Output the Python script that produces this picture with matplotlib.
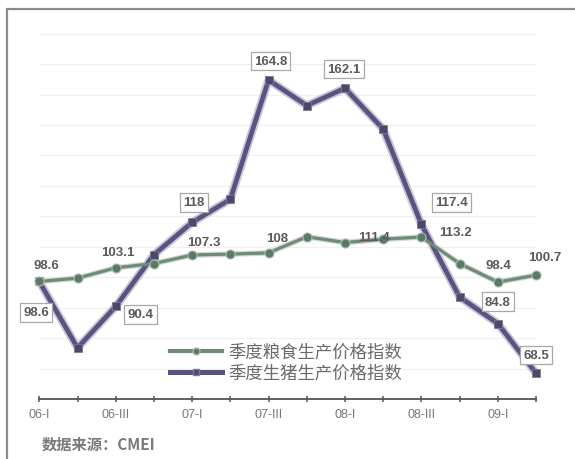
import numpy as np
import matplotlib
matplotlib.use("Agg")
import matplotlib.pyplot as plt
from matplotlib.lines import Line2D
from matplotlib.patches import Rectangle

plt.rcParams['font.family'] = ['Liberation Sans', 'Noto Sans CJK SC', 'DejaVu Sans']

# quarters 06-I .. 09-II
quarters = ['06-I', '06-II', '06-III', '06-IV', '07-I', '07-II', '07-III', '07-IV',
            '08-I', '08-II', '08-III', '08-IV', '09-I', '09-II']
grain = [98.6, 99.7, 103.1, 104.5, 107.3, 107.6, 108, 113.3,
         111.4, 112.5, 113.2, 104.5, 98.4, 100.7]
pig = [98.6, 76.8, 90.4, 107.4, 118, 125.6, 164.8, 156.4,
       162.1, 148.7, 117.4, 93.5, 84.8, 68.5]
labelled = [0, 2, 4, 6, 8, 10, 12, 13]
grain_name = '季度粮食生产价格指数'
pig_name = '季度生猪生产价格指数'
source = '数据来源：CMEI'

# label offsets in pixels (dx, dy)
grain_off = [(7, 16), (2, 16), (12, 13), (9, 15), (29, 6), (34, 5), (1, 17), (9, 18)]
pig_off = [(-3, -31), (25, -8), (2, 20), (2, 19), (-1, 19), (30, 22), (0, 22), (0, 18)]

pig_color = '#5a5380'
pig_mark = '#4a4a68'
grain_color = '#6f8b78'
grain_mark = '#5b7a66'
label_color = '#5a5a5a'

fig = plt.figure(figsize=(5.75, 4.6), dpi=100)
W, H = 575, 460

# outer frame
fig.patches.append(Rectangle((7 / W, -0.05), 1.2, 1 - 10 / H + 0.05, transform=fig.transFigure,
                             fill=False, edgecolor='#8a8a8a', linewidth=1.6))

ax = fig.add_axes([39.3 / W, 60 / H, (536 - 39.3) / W, (400 - 34.7) / H])
x = np.arange(len(quarters))

ax.set_xlim(0, 13)
ax.set_ylim(60, 180)
for gy in range(70, 181, 10):
    ax.axhline(gy, color='#f0f0f0', linewidth=0.9, zorder=0)

# soft halo under the lines
ax.plot(x, pig, color='#c9c5da', linewidth=6, solid_capstyle='round', clip_on=False, zorder=2)
ax.plot(x, grain, color='#cfd9d2', linewidth=4, solid_capstyle='round', clip_on=False, zorder=2)

ax.plot(x, pig, color=pig_color, linewidth=3.4, marker='s', markersize=5.5,
        markerfacecolor=pig_mark, markeredgecolor='#7d7898', markeredgewidth=0.6,
        clip_on=False, zorder=3)
ax.plot(x, grain, color=grain_color, linewidth=2.3, marker='o', markersize=6.5,
        markerfacecolor=grain_mark, markeredgecolor='#a9bcae', markeredgewidth=0.8,
        clip_on=False, zorder=4)

for i, (dx, dy) in zip(labelled, grain_off):
    ax.annotate(f'{grain[i]:g}', (x[i], grain[i]), xytext=(dx, dy), textcoords='offset pixels',
                ha='center', va='center', fontsize=9.5, fontweight='bold', color=label_color,
                zorder=6, annotation_clip=False)

for i, (dx, dy) in zip(labelled, pig_off):
    ax.annotate(f'{pig[i]:g}', (x[i], pig[i]), xytext=(dx, dy), textcoords='offset pixels',
                ha='center', va='center', fontsize=9.5, fontweight='bold', color=label_color,
                zorder=7, annotation_clip=False,
                bbox=dict(boxstyle='square,pad=0.25', facecolor='white', edgecolor='#a8a8a8',
                          linewidth=0.9))

for s in ['top', 'right', 'left']:
    ax.spines[s].set_visible(False)
ax.spines['bottom'].set_color('#555555')
ax.spines['bottom'].set_linewidth(1.3)
ax.set_yticks([])
ax.set_xticks(x)
ax.set_xticklabels([q if k % 2 == 0 else '' for k, q in enumerate(quarters)])
ax.tick_params(axis='x', direction='inout', length=5, width=1.1, color='#555555',
               labelsize=9, labelcolor='#777777', pad=4)

handles = [
    Line2D([], [], color=grain_color, linewidth=3, marker='o', markersize=5,
           markerfacecolor=grain_mark, markeredgecolor='#a9bcae'),
    Line2D([], [], color=pig_color, linewidth=3.6, marker='s', markersize=5,
           markerfacecolor=pig_mark, markeredgecolor='#7d7898'),
]
leg = ax.legend(handles, [grain_name, pig_name], loc='upper left',
                bbox_to_anchor=(170 / W, 1 - 344 / H), bbox_transform=fig.transFigure,
                frameon=False, borderpad=0, borderaxespad=0, handlelength=3.0,
                handletextpad=0.35, labelspacing=0.15,
                prop={'family': ['Noto Sans CJK SC', 'DejaVu Sans'], 'size': 12.5})
for t in leg.get_texts():
    t.set_color('#6a6a6a')

fig.text(42 / W, 1 - 445 / H, source, ha='left', va='center', fontsize=11,
         fontweight='bold', fontstyle='italic', color='#7a7a7a',
         family=['Noto Sans CJK SC', 'DejaVu Sans'])

fig.savefig('out.png', dpi=100)
